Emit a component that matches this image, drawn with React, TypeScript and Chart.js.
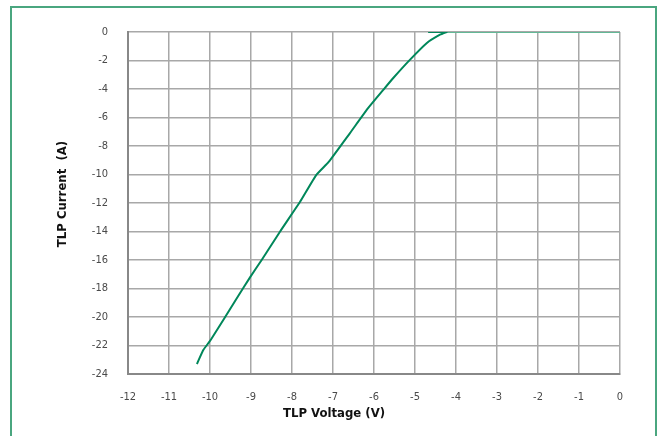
import React, { useEffect, useRef } from "react";
import { Chart, registerables } from "chart.js";

Chart.register(...registerables);

// TLP curve (voltage V, current A)
const curveV = [-10.32, -10.16, -9.98, -9.35, -9.02, -8.74, -8.29, -7.8, -7.41, -7.1, -6.59, -6.14, -5.77, -5.53, -5.12, -4.71, -4.39, -4.23];
const curveI = [-23.3, -22.3, -21.6, -18.7, -17.2, -16.0, -14.0, -11.9, -10.04, -9.1, -7.11, -5.33, -4.05, -3.23, -1.94, -0.77, -0.19, 0];
// short off-state segment at 0 A
const offV = [-4.68, -4.2];
const offI = [0, 0];
// flat section along 0 A
const flatV = [-4.2, 0];
const flatI = [0, 0];

const xMin = -12;
const xMax = 0;
const yMin = -24;
const yMax = 0;

const FONT = "'Liberation Sans Narrow', 'DejaVu Sans Condensed', 'Arial Narrow', sans-serif";

const pts = (xs: number[], ys: number[]) => xs.map((x, i) => ({ x, y: ys[i] }));

export default function App() {
  const ref = useRef<HTMLCanvasElement | null>(null);

  useEffect(() => {
    document.body.style.margin = "0";
    const titles = {
      id: "titles",
      afterDraw(chart: any) {
        const ctx = chart.ctx;
        ctx.save();
        ctx.fillStyle = "#111";
        ctx.font = `bold 13px ${FONT}`;
        ctx.textAlign = "center";
        ctx.textBaseline = "middle";
        ctx.fillText("TLP Voltage (V)", 334, 414);
        ctx.translate(63, 194);
        ctx.rotate(-Math.PI / 2);
        ctx.fillText("TLP Current  (A)", 0, 0);
        ctx.restore();
      },
    };
    const chart = new Chart(ref.current as HTMLCanvasElement, {
      type: "scatter",
      data: {
        datasets: [
          {
            data: pts(flatV, flatI),
            showLine: true,
            borderColor: "#62b896",
            borderWidth: 2,
            pointRadius: 0,
          },
          {
            data: pts(offV, offI),
            showLine: true,
            borderColor: "#00875a",
            borderWidth: 2,
            pointRadius: 0,
          },
          {
            data: pts(curveV, curveI),
            showLine: true,
            borderColor: "#00875a",
            borderWidth: 2,
            pointRadius: 0,
            tension: 0.15,
          },
        ],
      },
      options: {
        animation: false,
        responsive: false,
        layout: { padding: { left: 0, right: 40, top: 32, bottom: 0 } },
        plugins: { legend: { display: false }, tooltip: { enabled: false } },
        scales: {
          x: {
            type: "linear",
            min: xMin,
            max: xMax,
            ticks: {
              stepSize: 1,
              color: "#4a4a4a",
              font: { family: FONT, size: 11 },
              padding: 17,
            },
            grid: { color: "#a8a8a8", lineWidth: 1.5, drawTicks: false },
            border: { color: "#888", width: 2 },
            afterFit(scale: any) {
              scale.height = 62;
            },
          },
          y: {
            type: "linear",
            min: yMin,
            max: yMax,
            ticks: {
              stepSize: 2,
              color: "#4a4a4a",
              font: { family: FONT, size: 11 },
              padding: 20,
            },
            grid: { color: "#a8a8a8", lineWidth: 1.5, drawTicks: false },
            border: { color: "#888", width: 2 },
            afterFit(scale: any) {
              scale.width = 128;
            },
          },
        },
      },
      plugins: [titles],
    });
    return () => chart.destroy();
  }, []);

  return (
    <div style={{ position: "relative", width: 660, height: 436, overflow: "hidden", background: "#fff" }}>
      <div
        style={{
          position: "absolute",
          left: 10,
          top: 6,
          width: 647,
          height: 460,
          border: "2px solid #4aa67f",
          boxSizing: "border-box",
        }}
      />
      <canvas ref={ref} width={660} height={436} style={{ position: "absolute", left: 0, top: 0 }} />
    </div>
  );
}
